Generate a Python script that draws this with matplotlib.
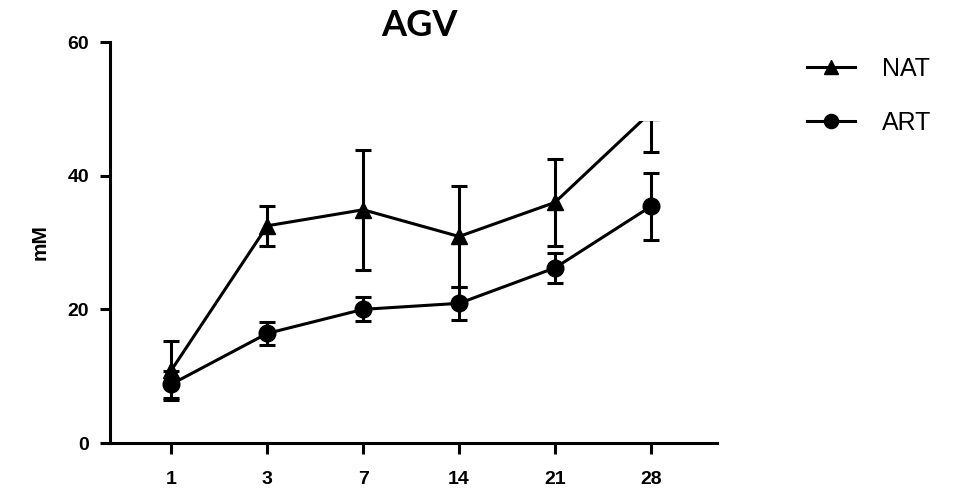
import matplotlib
matplotlib.use("Agg")
import matplotlib.pyplot as plt
import matplotlib.transforms as mtransforms
from matplotlib.patches import Rectangle
import numpy as np

matplotlib.rcParams['font.family'] = ['Liberation Sans', 'DejaVu Sans']

# data
days = ["1", "3", "7", "14", "21", "28"]
nat_mean = [10.9, 32.5, 34.9, 30.9, 36.0, 49.5]
nat_err = [4.4, 3.0, 9.0, 7.6, 6.5, 5.9]
art_mean = [8.8, 16.4, 20.0, 20.9, 26.2, 35.4]
art_err = [2.0, 1.7, 1.8, 2.5, 2.3, 5.0]

LW = 2.2
fig = plt.figure(figsize=(9.64, 4.93), dpi=100)
ax = fig.add_axes([0.1141, 0.1014, 0.6297, 0.8134])

x = np.arange(len(days))

# NAT
nat_line, = ax.plot(x, nat_mean, '-', marker='^', color='black', lw=LW,
                    markersize=12, label='NAT')
nat_eb = ax.errorbar(x, nat_mean, yerr=nat_err, fmt='none', ecolor='black',
                     elinewidth=LW, capsize=6, capthick=LW)

# ART
ax.plot(x, art_mean, '-', marker='o', color='black', lw=LW,
        markersize=12, label='ART')
ax.errorbar(x, art_mean, yerr=art_err, fmt='none', ecolor='black',
            elinewidth=LW, capsize=6, capthick=LW)

# the NAT series is cut off near the top in the original
trans = mtransforms.blended_transform_factory(ax.transAxes, ax.transData)
clip = Rectangle((0, 0), 1, 48.2, transform=trans, facecolor='none')
nat_line.set_clip_path(clip)
for art in list(nat_eb.lines[1]) + list(nat_eb.lines[2]):
    art.set_clip_path(clip)

ax.set_xlim(-0.64, 5.69)
ax.set_ylim(0, 60)
ax.set_xticks(x)
ax.set_xticklabels(days)
ax.set_yticks([0, 20, 40, 60])

for s in ['top', 'right']:
    ax.spines[s].set_visible(False)
for s in ['left', 'bottom']:
    ax.spines[s].set_linewidth(LW)
ax.tick_params(axis='both', width=LW, labelsize=14, direction='out')
ax.tick_params(axis='y', length=7, pad=8)
ax.tick_params(axis='x', length=8, pad=12)
for lab in ax.get_xticklabels() + ax.get_yticklabels():
    lab.set_fontweight('bold')

ax.set_ylabel("mM", fontsize=15, fontweight='bold', labelpad=13)
ax.set_title("AGV", fontsize=26, fontweight='bold', family=['Lato', 'DejaVu Sans'],
             pad=0, x=0.51)

fig.legend(loc='upper left', bbox_to_anchor=(0.814, 0.93), frameon=False,
           fontsize=18, handlelength=1.9, labelspacing=1.2, handletextpad=1.1,
           markerscale=0.85)

plt.savefig("out.png", dpi=100, facecolor='white')
plt.close()
